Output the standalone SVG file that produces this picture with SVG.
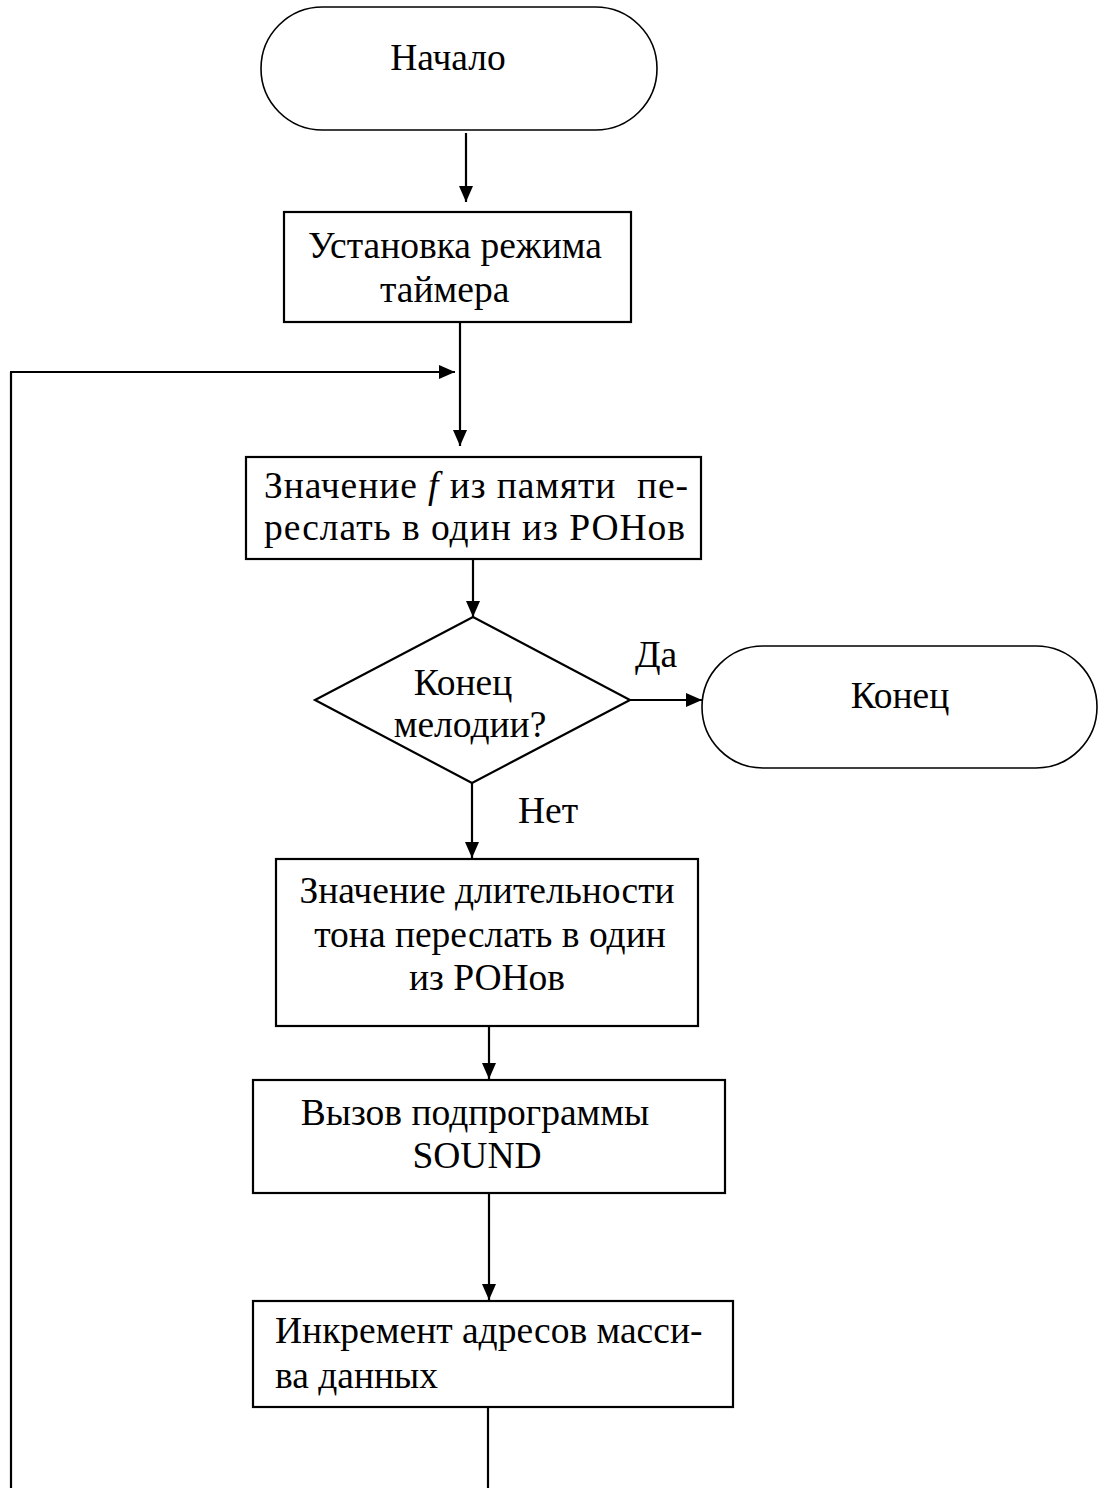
<svg xmlns="http://www.w3.org/2000/svg" width="1103" height="1488" viewBox="0 0 1103 1488">
<style>
  .shape { fill: #ffffff; stroke: #000000; stroke-width: 2.2; }
  .term { fill: #ffffff; stroke: #000000; stroke-width: 1.6; }
  .line { fill: none; stroke: #000000; stroke-width: 2.2; }
  text { font-family: "Liberation Serif", "Times New Roman", serif; font-size: 37.5px; fill: #000000; }
  .c { text-anchor: middle; }
</style>
<defs>
  <marker id="arr" viewBox="0 0 16 14" refX="16" refY="7" markerWidth="16" markerHeight="14" markerUnits="userSpaceOnUse" orient="auto">
    <path d="M0,0 L16,7 L0,14 Z" fill="#000000"/>
  </marker>
</defs>
<rect width="1103" height="1488" fill="#ffffff"/>

<g id="connectors">
  <line class="line" x1="466" y1="133" x2="466" y2="202" marker-end="url(#arr)"/>
  <line class="line" x1="460" y1="322" x2="460" y2="446" marker-end="url(#arr)"/>
  <line class="line" x1="11" y1="1488" x2="11" y2="372"/>
  <line class="line" x1="10" y1="372" x2="455" y2="372" marker-end="url(#arr)"/>
  <line class="line" x1="473" y1="559" x2="473" y2="617" marker-end="url(#arr)"/>
  <line class="line" x1="630" y1="700" x2="702" y2="700" marker-end="url(#arr)"/>
  <line class="line" x1="472" y1="783" x2="472" y2="858" marker-end="url(#arr)"/>
  <line class="line" x1="489" y1="1026" x2="489" y2="1079" marker-end="url(#arr)"/>
  <line class="line" x1="489" y1="1193" x2="489" y2="1300" marker-end="url(#arr)"/>
  <line class="line" x1="488" y1="1407" x2="488" y2="1488"/>
  <text x="635" y="667">Да</text>
  <text x="518" y="823">Нет</text>
</g>

<g id="start">
  <rect class="term" x="261" y="7" width="396" height="123" rx="61.5" ry="61.5"/>
  <text x="448" y="70" class="c">Начало</text>
</g>

<g id="timer">
  <rect class="shape" x="284" y="212" width="347" height="110"/>
  <text x="308" y="258">Установка режима</text>
  <text x="380" y="302">таймера</text>
</g>

<g id="load-f">
  <rect class="shape" x="246" y="457" width="455" height="102"/>
  <text x="264" y="498" xml:space="preserve" textLength="424" lengthAdjust="spacing">Значение <tspan font-style="italic">f</tspan> из памяти  пе-</text>
  <text x="264" y="540" textLength="421" lengthAdjust="spacing">реслать в один из РОНов</text>
</g>

<g id="decision">
  <polygon class="shape" points="473,617 630,700 472,783 315,700"/>
  <text x="463" y="695" class="c">Конец</text>
  <text x="470" y="737" class="c">мелодии?</text>
</g>

<g id="end">
  <rect class="term" x="702" y="646" width="395" height="122" rx="61" ry="61"/>
  <text x="900" y="708" class="c">Конец</text>
</g>

<g id="load-duration">
  <rect class="shape" x="276" y="859" width="422" height="167"/>
  <text x="487" y="903" class="c">Значение длительности</text>
  <text x="490" y="947" class="c">тона переслать в один</text>
  <text x="487" y="990" class="c">из РОНов</text>
</g>

<g id="call-sound">
  <rect class="shape" x="253" y="1080" width="472" height="113"/>
  <text x="475" y="1125" class="c">Вызов подпрограммы</text>
  <text x="477" y="1168" class="c">SOUND</text>
</g>

<g id="increment">
  <rect class="shape" x="253" y="1301" width="480" height="106"/>
  <text x="275" y="1343">Инкремент адресов масси-</text>
  <text x="275" y="1388">ва данных</text>
</g>
</svg>
